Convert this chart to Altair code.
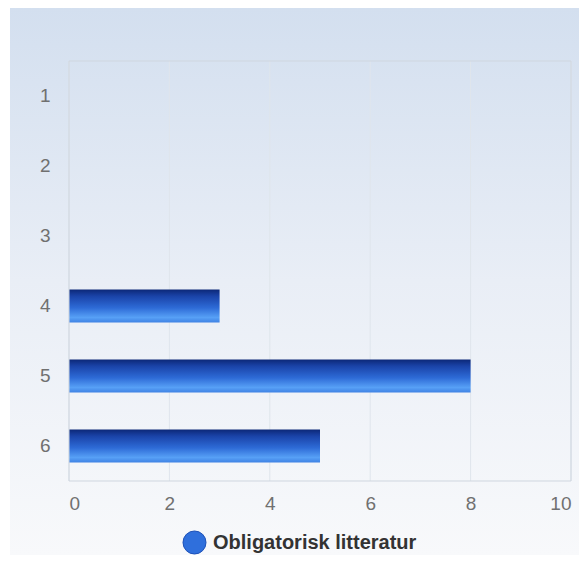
import altair as alt
import pandas as pd

categories = ["1", "2", "3", "4", "5", "6"]
values = [0, 0, 0, 3, 8, 5]
series_name = "Obligatorisk litteratur"
x_ticks = [0, 2, 4, 6, 8, 10]

W, H = 502, 420
PL, PT, PR, PB = 61, 53, 8, 74

df = pd.DataFrame({"cat": categories, "val": values, "series": [series_name] * len(categories)})
ticks_df = pd.DataFrame({"t": x_ticks})
one = pd.DataFrame({"d": [0]})

bg_grad = alt.Gradient(
    gradient="linear", x1=0, y1=0, x2=0, y2=1,
    stops=[alt.GradientStop(offset=0, color="#d3dfef"),
           alt.GradientStop(offset=0.5, color="#e9eef6"),
           alt.GradientStop(offset=1, color="#f8f9fb")],
)
bar_grad = alt.Gradient(
    gradient="linear", x1=0, y1=0, x2=0, y2=1,
    stops=[alt.GradientStop(offset=0, color="#0c2878"),
           alt.GradientStop(offset=0.2, color="#1a43a8"),
           alt.GradientStop(offset=0.55, color="#2d6ad6"),
           alt.GradientStop(offset=0.85, color="#57a0f6"),
           alt.GradientStop(offset=1, color="#3f82e4")],
)

xscale = alt.Scale(domain=[0, 10])
yscale = alt.Scale(domain=categories, paddingInner=0.53, paddingOuter=0.265)

bg = alt.Chart(one).mark_rect(fill=bg_grad).encode(
    x=alt.value(-59), x2=alt.value(510), y=alt.value(-53), y2=alt.value(494)
)

grid = alt.Chart(ticks_df).mark_rule(color="#dfe5ec", strokeWidth=1).encode(
    x=alt.X("t:Q", scale=xscale)
)

bars = alt.Chart(df).mark_bar(fill=bar_grad, strokeWidth=0).encode(
    x=alt.X("val:Q", scale=xscale,
            axis=alt.Axis(values=x_ticks, grid=False, domain=False, ticks=False,
                          labelFontSize=19, labelColor="#707070", labelPadding=13,
                          labelFont="Liberation Sans", title=None, zindex=1)),
    y=alt.Y("cat:N", scale=yscale, sort=categories,
            axis=alt.Axis(grid=False, domain=False, ticks=False, labelFontSize=19,
                          labelColor="#707070", labelPadding=19, labelFont="Liberation Sans",
                          title=None, zindex=1)),
)

legend_pts = alt.Chart(df).mark_point(filled=True, opacity=0).encode(
    x=alt.X("val:Q", scale=xscale),
    y=alt.Y("cat:N", scale=yscale, sort=categories),
    color=alt.Color("series:N", scale=alt.Scale(domain=[series_name], range=["#2f6fdc"]),
                    legend=alt.Legend(orient="none", legendX=113, legendY=469, title=None,
                                      symbolType="circle", symbolSize=530, symbolOpacity=1,
                                      symbolStrokeColor="#1f52b8", symbolStrokeWidth=1,
                                      labelFontSize=20, labelFontWeight="bold", labelOffset=6,
                                      labelColor="#333333", labelFont="Liberation Sans",
                                      labelLimit=400, zindex=1)),
)

border = alt.Chart(one).mark_rect(fill=None, stroke="#cfd6df", strokeWidth=1).encode(
    x=alt.value(0), x2=alt.value(W), y=alt.value(0), y2=alt.value(H)
)

chart = alt.layer(bg, grid, bars, legend_pts, border).properties(
    width=W, height=H,
    autosize=alt.AutoSizeParams(type="none"),
    padding={"left": PL, "top": PT, "right": PR, "bottom": PB},
).configure_view(stroke=None).configure(background="#ffffff")

chart.save("out.html", embed_options={"renderer": "svg", "actions": False})
